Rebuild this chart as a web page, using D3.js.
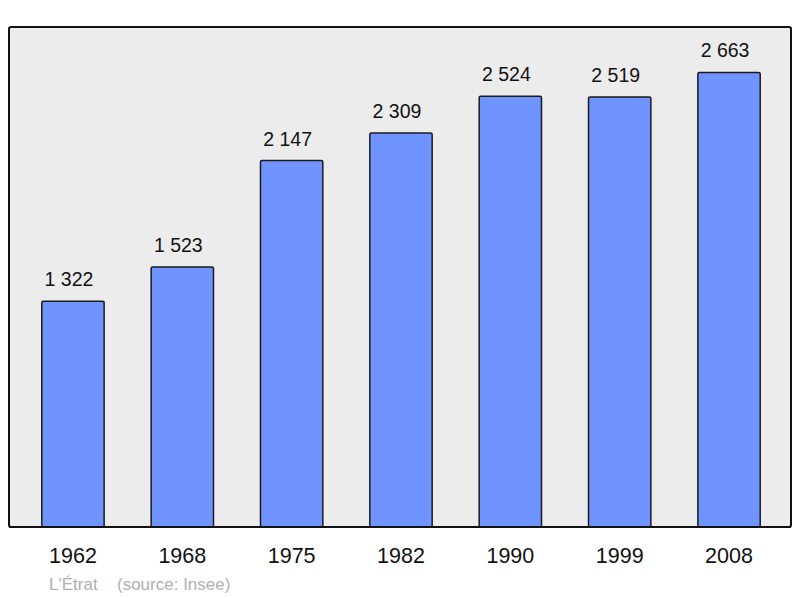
<!DOCTYPE html>
<html>
<head>
<meta charset="utf-8">
<script src="https://cdn.jsdelivr.net/npm/d3@7"></script>
<style>
  body { margin: 0; background: #fff; }
  text { font-family: "Liberation Sans", Arial, sans-serif; }
</style>
</head>
<body>
<div id="graph"></div>
<script>
  const years = ['1962', '1968', '1975', '1982', '1990', '1999', '2008'];
  const population = [1322, 1523, 2147, 2309, 2524, 2519, 2663];
  const townName = "L'Étrat";
  const sourceLabel = '(source: Insee)';

  const width = 800;
  const height = 598;
  const plot = {left: 9, top: 27, right: 791, bottom: 527};

  const fmt = (v) => d3.format(',')(v).replace(/,/g, ' ');

  const svg = d3.select('#graph')
              .append('svg')
              .attr('width', width)
              .attr('height', height);

  //frame
  svg.append('rect')
     .attr('x', plot.left)
     .attr('y', plot.top)
     .attr('width', plot.right - plot.left)
     .attr('height', plot.bottom - plot.top)
     .attr('rx', 2)
     .attr('fill', '#ececec')
     .attr('stroke', '#111')
     .attr('stroke-width', 2);

  //scales
  const xScale = d3.scaleBand().domain(years).range([plot.left, plot.right + 2])
                   .paddingInner(0.43).paddingOuter(0.3);
  const yScale = d3.scaleLinear().domain([0, d3.max(population) * 1.1])
                   .range([plot.bottom, plot.top]);

  const data = years.map((y, i) => ({year: y, value: population[i]}));

  svg.selectAll('rect.bar')
     .data(data)
     .enter()
     .append('rect')
     .attr('class', 'bar')
     .attr('x', (d) => xScale(d.year))
     .attr('y', (d) => yScale(d.value))
     .attr('width', xScale.bandwidth())
     .attr('height', (d) => yScale(0) - yScale(d.value))
     .attr('rx', 1.5)
     .attr('fill', '#7094ff')
     .attr('stroke', '#1a1a1a')
     .attr('stroke-width', 1.5);

  svg.selectAll('text.value')
     .data(data)
     .enter()
     .append('text')
     .attr('class', 'value')
     .attr('x', (d) => xScale(d.year) + xScale.bandwidth() / 2 - 4)
     .attr('y', (d) => yScale(d.value) - 15)
     .attr('text-anchor', 'middle')
     .attr('font-size', 19.5)
     .attr('fill', '#111')
     .text((d) => fmt(d.value));

  //redraw bottom edge over bars
  svg.append('line')
     .attr('x1', plot.left).attr('x2', plot.right)
     .attr('y1', plot.bottom).attr('y2', plot.bottom)
     .attr('stroke', '#111').attr('stroke-width', 2);

  //x axis labels
  const xAxis = d3.axisBottom(xScale).tickSize(0).tickPadding(21);
  const gx = svg.append('g')
     .attr('transform', 'translate(0,' + plot.bottom + ')')
     .call(xAxis);
  gx.select('.domain').remove();
  gx.selectAll('text')
    .attr('font-size', 21.5)
    .attr('font-family', '"Liberation Sans", Arial, sans-serif')
    .attr('fill', '#111');

  svg.append('text')
     .attr('x', 49)
     .attr('y', 590)
     .attr('font-size', 17)
     .attr('fill', '#b0b0b0')
     .text(townName);
  svg.append('text')
     .attr('x', 117)
     .attr('y', 590)
     .attr('font-size', 17)
     .attr('fill', '#b0b0b0')
     .text(sourceLabel);
</script>
</body>
</html>
